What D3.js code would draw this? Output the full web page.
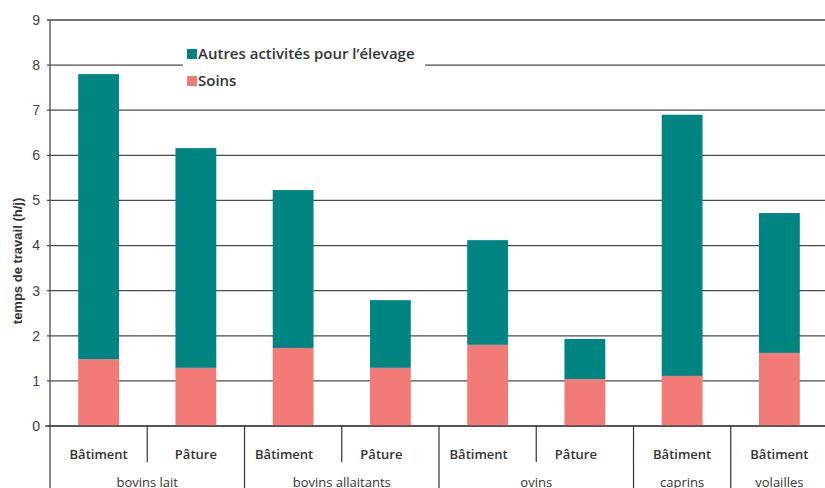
<!DOCTYPE html>
<html><head><meta charset="utf-8">
<script src="https://cdn.jsdelivr.net/npm/d3@7"></script>
<style>body{margin:0;background:#fff}svg{display:block}</style>
</head><body>
<script>
const groups = ["bovins lait","bovins lait","bovins allaitants","bovins allaitants","ovins","ovins","caprins","volailles"];
const subLabels = ["Bâtiment","Pâture","Bâtiment","Pâture","Bâtiment","Pâture","Bâtiment","Bâtiment"];
const soins = [1.48, 1.29, 1.73, 1.29, 1.80, 1.04, 1.11, 1.62];
const totals = [7.80, 6.16, 5.23, 2.79, 4.12, 1.93, 6.90, 4.72];
const autres = totals.map((t,i)=>+(t - soins[i]).toFixed(2));
const yTicks = [0,1,2,3,4,5,6,7,8,9];
const seriesNames = ["Autres activités pour l’élevage","Soins"];

// styling
const colors = {"Soins":"#F27B77","Autres":"#008582"};
const subLabelShift = {"bovins allaitants": -9, "ovins": -9};

const W=825,H=488;
const svg=d3.select("body").append("svg").attr("width",W).attr("height",H);
const x0=50, x1=828, yTop=20, yBot=426;
const idx=d3.range(groups.length);
const x=d3.scaleBand().domain(idx).range([x0,x1]).paddingInner(0.58).paddingOuter(0.29);
const y=d3.scaleLinear().domain([0,9]).range([yBot,yTop]);

// gridlines
svg.append("g").selectAll("line").data(yTicks).join("line")
  .attr("x1",47).attr("x2",W).attr("y1",d=>y(d)).attr("y2",d=>y(d))
  .attr("stroke","#4a4a4a").attr("stroke-width",1.3);

// y tick labels
svg.append("g").selectAll("text").data(yTicks).join("text")
  .attr("x",40).attr("y",d=>y(d)).attr("dy","0.35em").attr("text-anchor","end")
  .attr("font-family","Liberation Sans, Arial, sans-serif").attr("font-size",14).attr("fill","#404040")
  .text(d=>d);

// bars
const stack=d3.stack().keys(["Soins","Autres"])(idx.map(i=>({i,Soins:soins[i],Autres:autres[i]})));
svg.append("g").selectAll("g").data(stack).join("g").attr("fill",d=>colors[d.key])
  .selectAll("rect").data(d=>d).join("rect")
  .attr("x",d=>x(d.data.i)).attr("width",x.bandwidth())
  .attr("y",d=>y(d[1])).attr("height",d=>y(d[0])-y(d[1]));

// axes lines
svg.append("line").attr("x1",x0).attr("x2",x0).attr("y1",yTop).attr("y2",H).attr("stroke","#4a4a4a").attr("stroke-width",1.3);
svg.append("line").attr("x1",45).attr("x2",W).attr("y1",yBot).attr("y2",yBot).attr("stroke","#4a4a4a").attr("stroke-width",1.5);

// category separators
const step=x.step();
idx.slice(1).forEach(i=>{
  const xx=x0+i*step;
  const groupBoundary = groups[i]!==groups[i-1];
  svg.append("line").attr("x1",xx).attr("x2",xx).attr("y1",yBot).attr("y2",groupBoundary?H:462)
    .attr("stroke","#333").attr("stroke-width",1.2);
});

// sub labels
svg.append("g").selectAll("text").data(idx).join("text")
  .attr("x",i=>x(i)+x.bandwidth()/2+(subLabelShift[groups[i]]||0)).attr("y",458.5).attr("text-anchor","middle")
  .attr("font-family","Open Sans, sans-serif").attr("font-weight",600).attr("font-size",13).attr("fill","#333")
  .text(i=>subLabels[i]);

// group labels
const uniq=[...new Set(groups)];
uniq.forEach(g=>{
  const ii=idx.filter(i=>groups[i]===g);
  const cx=(x0+ii[0]*step + x0+(ii[ii.length-1]+1)*step)/2;
  svg.append("text").attr("x",cx).attr("y",487).attr("text-anchor","middle")
    .attr("font-family","Open Sans, sans-serif").attr("font-size",13).attr("fill","#333").text(g);
});

// y title
svg.append("text").attr("transform","translate(22,261) rotate(-90)").attr("text-anchor","middle")
  .attr("font-family","Liberation Sans, Arial, sans-serif").attr("font-weight",700).attr("font-size",13).attr("fill","#333")
  .text("temps de travail (h/j)");

// legend
const lg=svg.append("g");
lg.append("rect").attr("x",183).attr("y",40).attr("width",242).attr("height",52).attr("fill","#fff");
const legItems=[{name:seriesNames[0],c:colors.Autres,y:49},{name:seriesNames[1],c:colors.Soins,y:76}];
legItems.forEach(d=>{
  lg.append("rect").attr("x",187).attr("y",d.y).attr("width",10).attr("height",10).attr("fill",d.c);
  lg.append("text").attr("x",198).attr("y",d.y+10).attr("font-family","Open Sans, sans-serif")
    .attr("font-weight",600).attr("font-size",15).attr("fill","#333").text(d.name);
});
</script>
</body></html>
